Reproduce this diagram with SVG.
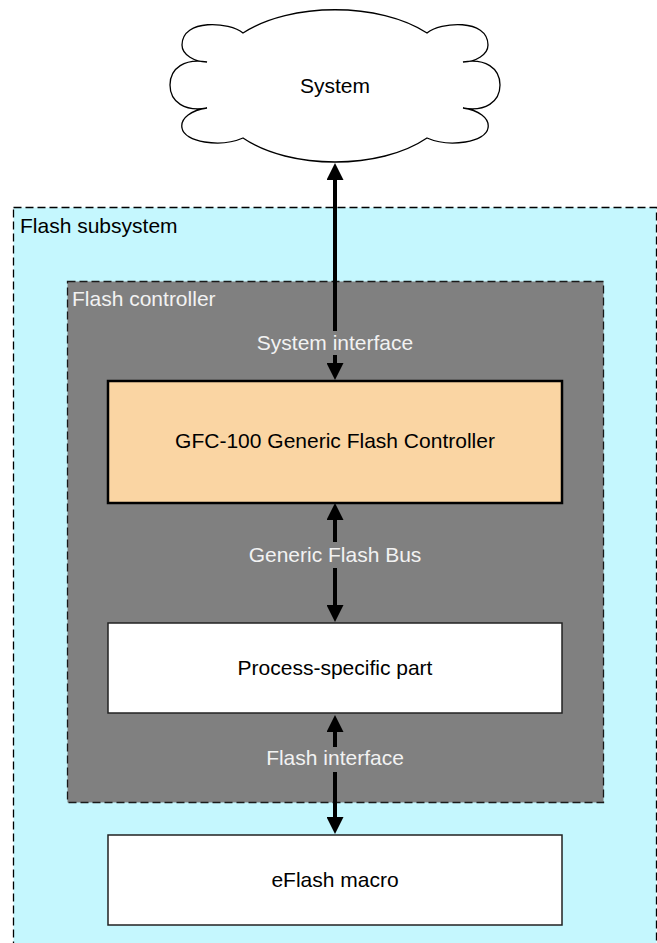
<svg xmlns="http://www.w3.org/2000/svg" width="657" height="943" viewBox="0 0 657 943">
  <defs>
    <style>
      text { font-family: "Liberation Sans", Arial, sans-serif; font-size: 21px; }
      .dark { fill: #000000; }
      .light { fill: #F2F2F2; }
      .mid { text-anchor: middle; }
      .conn { stroke: #000000; stroke-width: 4; fill: none; marker-start: url(#arrow); marker-end: url(#arrow); }
      .lblbg { fill: #808080; }
      .plain { fill: #FFFFFF; stroke: #222222; stroke-width: 1.5; }
    </style>
    <marker id="arrow" markerUnits="userSpaceOnUse" markerWidth="17" markerHeight="17" refX="0" refY="8.5" orient="auto-start-reverse">
      <path d="M0,0 L17,8.5 L0,17 z" fill="#000000"/>
    </marker>
  </defs>
  <rect width="657" height="943" fill="#FFFFFF"/>

  <g id="flash-subsystem">
    <rect x="13.5" y="207.5" width="643" height="760" fill="#C5F7FE" stroke="#000000" stroke-width="1.3" stroke-dasharray="8,4"/>
    <text x="20" y="233" class="dark">Flash subsystem</text>
  </g>

  <g id="flash-controller">
    <rect x="67.5" y="281.5" width="536" height="521" fill="#808080" stroke="#1A1A1A" stroke-width="1.3" stroke-dasharray="8,4"/>
    <text x="72" y="306" class="light">Flash controller</text>
  </g>

  <g id="system">
    <path d="M243,33 C290,2 380,2 427,33 C440,22 488,18 488,45 C488,55 475,62 463,62 C485,58 500,68 500,85 C500,102 485,112 463,108 C478,110 490,118 488,128 C486,142 450,148 427,138 C380,170 290,170 243,138 C220,148 184,142 182,128 C180,118 192,110 207,108 C185,112 170,102 170,85 C170,68 185,58 207,62 C195,62 182,55 182,45 C182,18 230,22 243,33 Z" fill="#FFFFFF" stroke="#000000" stroke-width="1.3"/>
    <text x="335" y="93" class="dark mid">System</text>
  </g>

  <g id="gfc-100">
    <rect x="108" y="381" width="454" height="122" fill="#FAD5A3" stroke="#000000" stroke-width="2.5"/>
    <text x="335" y="448" class="dark mid">GFC-100 Generic Flash Controller</text>
  </g>

  <g id="process-specific">
    <rect x="108" y="623" width="454" height="90" class="plain"/>
    <text x="335" y="675" class="dark mid">Process-specific part</text>
  </g>

  <g id="eflash-macro">
    <rect x="108" y="835" width="454" height="90" class="plain"/>
    <text x="335" y="887" class="dark mid">eFlash macro</text>
  </g>

  <g id="connectors">
    <line x1="335" y1="180" x2="335" y2="363" class="conn"/>
    <rect x="250" y="331" width="170" height="24" class="lblbg"/>
    <text x="335" y="350" class="light mid">System interface</text>

    <line x1="335" y1="520" x2="335" y2="605" class="conn"/>
    <rect x="240" y="542" width="190" height="26" class="lblbg"/>
    <text x="335" y="562" class="light mid">Generic Flash Bus</text>

    <line x1="335" y1="732" x2="335" y2="817" class="conn"/>
    <rect x="260" y="747" width="150" height="25" class="lblbg"/>
    <text x="335" y="765" class="light mid">Flash interface</text>
  </g>
</svg>
